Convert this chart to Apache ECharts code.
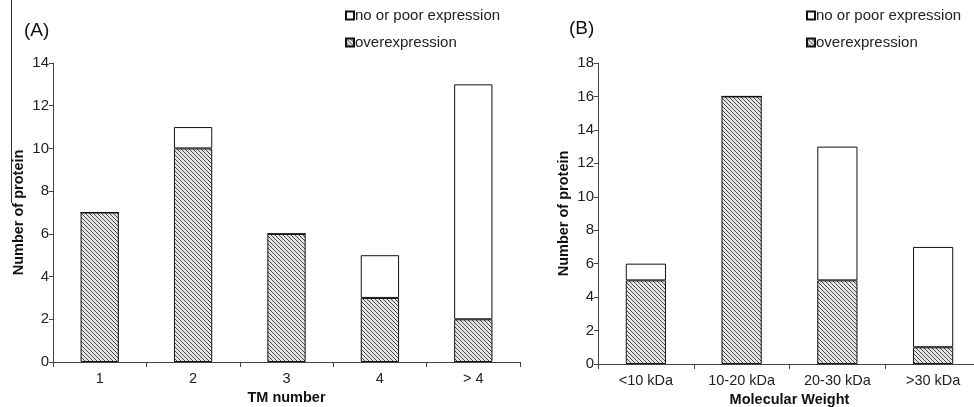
<!DOCTYPE html>
<html><head><meta charset="utf-8">
<script src="https://cdn.jsdelivr.net/npm/echarts@6/dist/echarts.min.js"></script>
<style>html,body{margin:0;padding:0;background:#fff}#c{width:974px;height:407px}</style>
</head><body><div id="c"></div>
<script>
// Panel A
const tmCategories = ['1', '2', '3', '4', '> 4'];
const tmOver = [7, 10, 6, 3, 2];
const tmPoor = [0, 1, 0, 2, 11];
const tmTicks = [0, 14, 2];
// Panel B
const mwCategories = ['<10 kDa', '10-20 kDa', '20-30 kDa', '>30 kDa'];
const mwOver = [5, 16, 5, 1];
const mwPoor = [1, 0, 8, 6];
const mwTicks = [0, 18, 2];
const seriesNames = ['no or poor expression', 'overexpression'];

function hatch() {
  const c = document.createElement('canvas');
  c.width = 4; c.height = 4;
  const g = c.getContext('2d');
  g.fillStyle = '#e4e4e4'; g.fillRect(0, 0, 4, 4);
  g.strokeStyle = '#4a4a4a'; g.lineWidth = 1;
  g.beginPath();
  g.moveTo(-1, -1); g.lineTo(5, 5);
  g.moveTo(-1, 3); g.lineTo(1, 5);
  g.moveTo(3, -1); g.lineTo(5, 1);
  g.stroke();
  return c;
}
const pat = { image: hatch(), repeat: 'repeat' };
const font = 'Liberation Sans, Arial, sans-serif';
const axisCol = '#444';

function xAxis(idx, cats, name, gap) {
  return {
    type: 'category', gridIndex: idx, data: cats,
    name: name, nameLocation: 'middle', nameGap: gap,
    nameTextStyle: { fontFamily: font, fontSize: 14.5, fontWeight: 'bold', color: '#111' },
    axisLine: { lineStyle: { color: axisCol, width: 1 } },
    axisTick: { show: true, length: 5, lineStyle: { color: axisCol } },
    axisLabel: { fontFamily: font, fontSize: 14.5, color: '#222', margin: 9 },
    splitLine: { show: false }
  };
}
function yAxis(idx, t) {
  return {
    type: 'value', gridIndex: idx, min: t[0], max: t[1], interval: t[2],
    name: 'Number of protein', nameLocation: 'middle', nameGap: 27,
    nameTextStyle: { fontFamily: font, fontSize: 14.5, fontWeight: 'bold', color: '#111' },
    axisLine: { show: true, lineStyle: { color: axisCol, width: 1 } },
    axisTick: { show: true, length: 4, lineStyle: { color: axisCol } },
    axisLabel: { fontFamily: font, fontSize: 15, color: '#222', margin: 4 },
    splitLine: { show: false }
  };
}
function bars(idx, over, poor, bw) {
  return [
    { name: seriesNames[1], type: 'bar', stack: 's' + idx, xAxisIndex: idx, yAxisIndex: idx,
      data: over, barWidth: bw,
      itemStyle: { color: pat, borderColor: '#111', borderWidth: 1 } },
    { name: seriesNames[0], type: 'bar', stack: 's' + idx, xAxisIndex: idx, yAxisIndex: idx,
      data: poor, barWidth: bw,
      itemStyle: { color: '#fff', borderColor: '#111', borderWidth: 1 } }
  ];
}
function legend(left) {
  return {
    left: left, top: 3, orient: 'vertical', itemGap: 12,
    data: seriesNames, icon: 'rect', itemWidth: 8, itemHeight: 8,
    selectedMode: false,
    textStyle: { fontFamily: font, fontSize: 15, color: '#222', padding: [0, 0, 0, -4] }
  };
}
const chart = echarts.init(document.getElementById('c'));
chart.setOption({
  animation: false,
  backgroundColor: '#fff',
  title: [
    { text: '(A)', left: 19, top: 16, textStyle: { fontFamily: font, fontSize: 19, fontWeight: 'normal', color: '#111' } },
    { text: '(B)', left: 564, top: 14, textStyle: { fontFamily: font, fontSize: 19, fontWeight: 'normal', color: '#111' } }
  ],
  legend: [legend(340), legend(801)],
  grid: [
    { left: 53, top: 63, width: 467, height: 299, containLabel: false, outerBoundsMode: 'none' },
    { left: 598, top: 63, width: 383, height: 301, containLabel: false, outerBoundsMode: 'none' }
  ],
  xAxis: [xAxis(0, tmCategories, 'TM number', 22), xAxis(1, mwCategories, 'Molecular Weight', 27)],
  yAxis: [yAxis(0, tmTicks), yAxis(1, mwTicks)],
  series: [...bars(0, tmOver, tmPoor, '41%'), ...bars(1, mwOver, mwPoor, '42%')],
  graphic: [
    { type: 'line', shape: { x1: 11.5, y1: 0, x2: 11.5, y2: 203 }, style: { stroke: '#333', lineWidth: 1 } }
  ]
});
</script></body></html>
